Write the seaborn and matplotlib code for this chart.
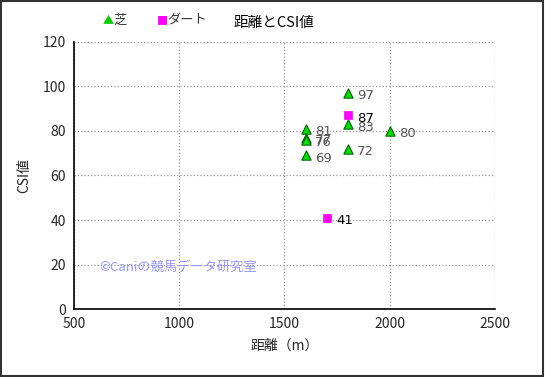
import matplotlib
matplotlib.use("Agg")
import matplotlib.pyplot as plt
import pandas as pd
import seaborn as sns

# 芝 (turf) and ダート (dirt) races: distance vs CSI
turf_dist = [1600, 1600, 1600, 1600, 1800, 1800, 1800, 2000]
turf_csi = [81, 77, 76, 69, 97, 83, 72, 80]
dirt_dist = [1800, 1700]
dirt_csi = [87, 41]

x_ticks = [500, 1000, 1500, 2000, 2500]
y_ticks = [0, 20, 40, 60, 80, 100, 120]

sns.set_style("white")
plt.rcParams["font.family"] = ["Noto Sans CJK JP", "DejaVu Sans"]

df = pd.DataFrame({
    "dist": turf_dist + dirt_dist,
    "csi": turf_csi + dirt_csi,
    "kind": ["芝"] * len(turf_dist) + ["ダート"] * len(dirt_dist),
})

fig = plt.figure(figsize=(5.45, 3.77), dpi=100, facecolor="white")
ax = fig.add_axes([0.136, 0.180, 0.772, 0.709])

sns.scatterplot(
    data=df[df.kind == "芝"], x="dist", y="csi", ax=ax,
    marker="^", s=45, color="#00dd00", edgecolor="#006600", linewidth=0.8,
    zorder=3, legend=False,
)
sns.scatterplot(
    data=df[df.kind == "ダート"], x="dist", y="csi", ax=ax,
    marker="s", s=40, color="#ff00ff", edgecolor="#ff00ff", linewidth=0.5,
    zorder=4, legend=False,
)

# value labels (overlaps at 1600/1800 are as in the original)
for d, c in zip(turf_dist, turf_csi):
    ax.annotate(str(c), (d, c), xytext=(7, -4.5), textcoords="offset points",
                fontsize=9.5, color="#555555", family="DejaVu Sans")
for d, c in zip(dirt_dist, dirt_csi):
    ax.annotate(str(c), (d, c), xytext=(7, -4.5), textcoords="offset points",
                fontsize=9.5, color="black", family="DejaVu Sans")

ax.set_xlim(500, 2500)
ax.set_ylim(0, 120)
ax.set_xticks(x_ticks)
ax.set_yticks(y_ticks)
ax.tick_params(labelsize=10, length=0, pad=6)
ax.grid(True, linestyle=":", color="#999999", linewidth=0.9)
for side in ["top", "right"]:
    ax.spines[side].set_visible(False)
for side in ["left", "bottom"]:
    ax.spines[side].set_color("black")
    ax.spines[side].set_linewidth(1.2)

ax.set_xlabel("距離（m）", fontsize=10, labelpad=5)
ax.set_ylabel("CSI値", fontsize=10, labelpad=8)

ax.text(620, 17, "©Caniの競馬データ研究室", fontsize=9.5, color="#9999ff")

# legend and title above the axes
fig.text(0.188, 0.945, "▲", fontsize=8, color="#00cc00", va="center")
fig.text(0.208, 0.945, "芝", fontsize=9.5, color="#333333", va="center")
fig.text(0.288, 0.945, "■", fontsize=8, color="#ff00ff", va="center")
fig.text(0.307, 0.945, "ダート", fontsize=9.5, color="#333333", va="center")
fig.text(0.503, 0.938, "距離とCSI値", fontsize=10.5, color="black",
         ha="center", va="center")

# outer frame
fig.patches.append(plt.Rectangle((0.002, 0.003), 0.995, 0.994,
                                 transform=fig.transFigure, fill=False,
                                 edgecolor="#333333", linewidth=1.5))

fig.savefig("out.png", dpi=100)
